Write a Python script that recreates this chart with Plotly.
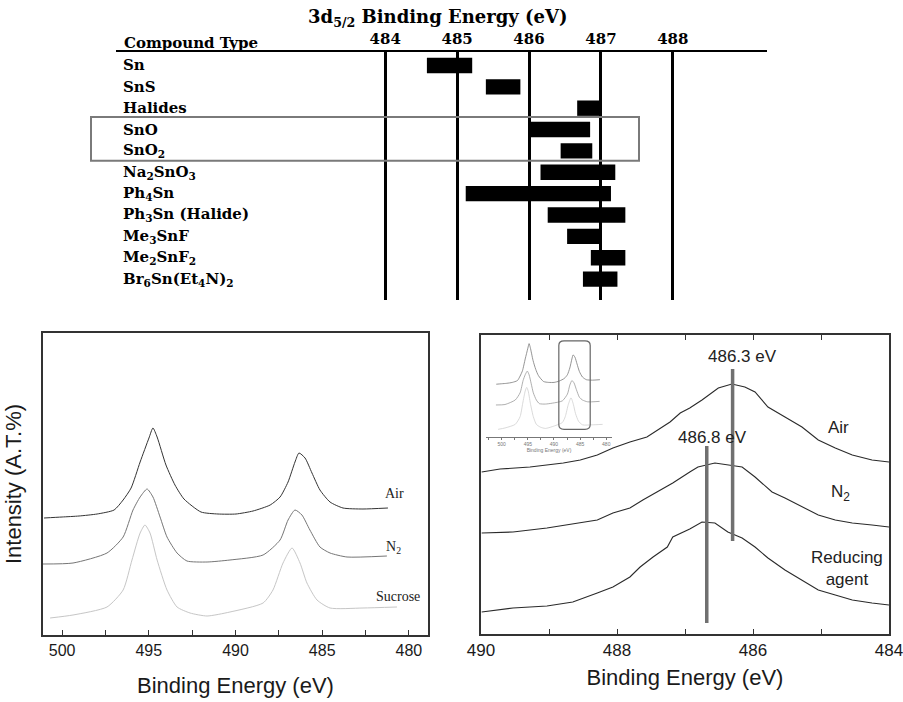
import plotly.graph_objects as go

# ---------------- top chart: 3d5/2 binding energy ranges ----------------
compounds = ["Sn", "SnS", "Halides", "SnO", "SnO<sub>2</sub>", "Na<sub>2</sub>SnO<sub>3</sub>",
             "Ph<sub>4</sub>Sn", "Ph<sub>3</sub>Sn (Halide)", "Me<sub>3</sub>SnF",
             "Me<sub>2</sub>SnF<sub>2</sub>", "Br<sub>6</sub>Sn(Et<sub>4</sub>N)<sub>2</sub>"]
be_low = [484.58, 485.40, 486.67, 486.00, 486.44, 486.16, 485.12, 486.26, 486.53, 486.86, 486.75]
be_high = [485.21, 485.88, 487.00, 486.85, 486.88, 487.20, 487.14, 487.34, 487.00, 487.34, 487.23]
top_ticks = [484, 485, 486, 487, 488]
highlight_rows = [2.41, 4.46]   # SnO / SnO2 box (row units)

# ---------------- bottom-left: Sn 3d spectra ----------------
air_e = [501.04, 500.0, 499.02, 497.98, 497.0, 496.48, 496.02, 495.5, 494.99, 494.76, 494.52, 494.01,
         493.49, 492.97, 491.99, 491.01, 489.97, 488.99, 488.0, 487.43, 486.97, 486.57, 486.34, 485.99,
         485.59, 485.13, 484.55, 483.8, 482.65, 481.21]
air_i = [117, 118, 119, 121, 125, 135, 147, 173, 197, 207, 198, 170, 150, 136, 123, 121, 121, 124,
         130, 138, 153, 173, 182, 177, 162, 145, 133, 127, 126, 127]
n2_e = [501.1, 499.37, 497.41, 496.48, 495.91, 495.5, 495.1, 494.76, 494.35, 493.95, 493.37, 492.8,
        491.64, 490.32, 488.41, 487.43, 486.97, 486.57, 486.17, 485.71, 485.13, 484.55, 483.57, 481.27]
n2_i = [71, 72, 82, 98, 125, 138, 146, 138, 118, 98, 82, 74, 73, 75, 80, 95, 115, 125, 120, 105,
        88, 82, 78, 79]
suc_e = [500.69, 499.37, 497.41, 496.48, 495.97, 495.5, 495.22, 494.93, 494.52, 493.95, 493.37,
         492.62, 491.64, 490.32, 488.41, 487.84, 487.26, 486.74, 486.28, 485.88, 485.3, 484.55,
         482.65, 480.69]
suc_i = [17, 20, 28, 45, 75, 102, 110, 102, 75, 45, 28, 22, 19, 23, 32, 45, 72, 87, 72, 52, 35,
         27, 27, 28]
left_ticks = [500, 495, 490, 485, 480]

# ---------------- bottom-right: Sn 3d5/2 zoom ----------------
r_air_e = [489.99, 489.72, 489.28, 488.79, 488.54, 488.29, 488.06, 487.81, 487.56, 487.41, 487.22,
           487.07, 486.93, 486.75, 486.51, 486.31, 486.12, 485.97, 485.78, 485.53, 485.28, 485.04,
           484.79, 484.54, 484.25, 484.0]
r_air_i = [162, 165, 167, 171, 174, 179, 186, 192, 197, 204, 212, 221, 226, 234, 246, 250, 247, 242,
           227, 217, 207, 194, 186, 179, 174, 172]
r_n2_e = [489.99, 489.53, 489.03, 488.54, 488.29, 488.06, 487.81, 487.62, 487.37, 487.18, 486.93,
          486.81, 486.56, 486.37, 486.16, 485.97, 485.72, 485.53, 485.28, 485.04, 484.79, 484.54,
          484.25, 484.0]
r_n2_i = [101, 102, 106, 111, 114, 121, 126, 134, 144, 151, 162, 167, 171, 169, 167, 157, 142, 136,
          127, 119, 114, 111, 109, 107]
r_red_e = [489.99, 489.53, 489.03, 488.65, 488.29, 488.06, 487.81, 487.66, 487.47, 487.26, 487.18,
           486.93, 486.75, 486.56, 486.37, 486.16, 485.97, 485.78, 485.53, 485.28, 485.04, 484.79,
           484.54, 484.25, 484.0]
r_red_i = [22, 26, 28, 32, 41, 47, 57, 67, 77, 87, 97, 105, 112, 111, 102, 96, 87, 76, 64, 54, 44,
           39, 34, 31, 29]
marker_e = [486.3, 486.68]
marker_lo = [93, 11]
marker_hi = [265, 188]
marker_text = ["486.3 eV", "486.8 eV"]
right_ticks = [490, 488, 486, 484]
inset_box = [489.07, 483.07, 17, 213]

W, H = 903, 702
SERIF = "DejaVu Serif"
SANS = "Liberation Sans"

fig = go.Figure()

# top chart bars
fig.add_trace(go.Bar(
    orientation="h", y=list(range(len(compounds))),
    x=[h - l for l, h in zip(be_low, be_high)], base=be_low,
    width=0.72, marker=dict(color="black", line=dict(width=0)),
    xaxis="x", yaxis="y", hoverinfo="skip"))

# bottom-left spectra
for e, i, c in [(air_e, air_i, "#333333"), (n2_e, n2_i, "#767676"), (suc_e, suc_i, "#c6c6c6")]:
    fig.add_trace(go.Scatter(x=e, y=i, mode="lines",
                             line=dict(color=c, width=1, shape="spline", smoothing=0.6),
                             xaxis="x2", yaxis="y2", hoverinfo="skip"))
# inset (same spectra, small)
for e, i, c in [(air_e, air_i, "#7a7a7a"), (n2_e, n2_i, "#9a9a9a"), (suc_e, suc_i, "#d0d0d0")]:
    fig.add_trace(go.Scatter(x=e, y=i, mode="lines",
                             line=dict(color=c, width=0.8, shape="spline", smoothing=0.6),
                             xaxis="x4", yaxis="y4", hoverinfo="skip"))
# bottom-right spectra
for e, i in [(r_air_e, r_air_i), (r_n2_e, r_n2_i), (r_red_e, r_red_i)]:
    fig.add_trace(go.Scatter(x=e, y=i, mode="lines", line=dict(color="#2a2a2a", width=1.1),
                             xaxis="x3", yaxis="y3", hoverinfo="skip"))
for e, lo, hi in zip(marker_e, marker_lo, marker_hi):
    fig.add_trace(go.Scatter(x=[e, e], y=[lo, hi], mode="lines",
                             line=dict(color="#707070", width=3.5),
                             xaxis="x3", yaxis="y3", hoverinfo="skip"))

px = lambda v: v / W
py = lambda v: 1 - v / H

# --- axes ---
fig.update_layout(
    width=W, height=H, margin=dict(l=0, r=0, t=0, b=0, autoexpand=False),
    paper_bgcolor="white", plot_bgcolor="rgba(0,0,0,0)", showlegend=False,
    hovermode=False,
    xaxis=dict(domain=[px(116), px(767)], range=[480.256, 489.31], side="top",
               tickvals=top_ticks, ticks="", showline=True, linecolor="black", linewidth=2,
               showgrid=True, gridcolor="black", gridwidth=2.5, zeroline=False,
               tickfont=dict(family=SERIF, size=15, color="black", weight="bold"),
               automargin=False, anchor="y"),
    yaxis=dict(domain=[py(300), py(52)], range=[10.98, -0.63], showticklabels=False,
               showgrid=False, zeroline=False, showline=False, ticks="", automargin=False,
               anchor="x"),
    xaxis2=dict(domain=[px(43), px(428)], range=[501.1, 478.9], tickvals=left_ticks,
                ticks="inside", ticklen=5, tickcolor="#333",
                minor=dict(dtick=2.5, ticks="inside", ticklen=5, tickcolor="#333"),
                showline=True, mirror=True, linecolor="#333", linewidth=1.5,
                showgrid=False, zeroline=False,
                tickfont=dict(family=SANS, size=16, color="#1a1a1a"),
                title=dict(text="Binding Energy (eV)",
                           font=dict(family=SANS, size=22, color="#1a1a1a"), standoff=20),
                automargin=False, anchor="y2"),
    yaxis2=dict(domain=[py(635), py(333)], range=[0, 302], showticklabels=False, ticks="",
                showline=True, mirror=True, linecolor="#333", linewidth=1.5,
                showgrid=False, zeroline=False,
                title=dict(text="Intensity (A.T.%)",
                           font=dict(family=SANS, size=22, color="#1a1a1a"), standoff=14),
                automargin=False, anchor="x2"),
    xaxis3=dict(domain=[px(481), px(889)], range=[490, 484], tickvals=right_ticks,
                ticks="inside", ticklen=5, tickcolor="#333",
                minor=dict(dtick=1, ticks="inside", ticklen=5, tickcolor="#333"),
                showline=True, mirror="ticks", linecolor="#333", linewidth=1.5,
                showgrid=False, zeroline=False, ticklabeloverflow="allow",
                tickfont=dict(family=SANS, size=17, color="#1a1a1a"),
                title=dict(text="Binding Energy (eV)",
                           font=dict(family=SANS, size=22, color="#1a1a1a"), standoff=10),
                automargin=False, anchor="y3"),
    yaxis3=dict(domain=[py(634), py(335)], range=[0, 299], showticklabels=False, ticks="",
                showline=True, mirror=True, linecolor="#333", linewidth=1.5,
                showgrid=False, zeroline=False, automargin=False, anchor="x3"),
    xaxis4=dict(domain=[px(486), px(612)], range=[503.0, 478.9], tickvals=left_ticks,
                ticks="outside", ticklen=2, tickcolor="#777", tickwidth=0.7,
                minor=dict(dtick=2.5, ticks="outside", ticklen=2, tickcolor="#777", tickwidth=0.7),
                showline=True, linecolor="#777", linewidth=0.8, showgrid=False, zeroline=False,
                tickfont=dict(family=SANS, size=5, color="#777"),
                title=dict(text="Binding Energy (eV)", font=dict(family=SANS, size=5, color="#777"),
                           standoff=1),
                automargin=False, anchor="y4"),
    yaxis4=dict(domain=[py(437), py(340)], range=[0, 215], visible=False, automargin=False,
                anchor="x4"),
)

ann = []
# top chart texts
ann.append(dict(text="3d<sub>5/2</sub> Binding Energy (eV)", xref="paper", yref="paper",
                x=px(438), y=py(18), xanchor="center", yanchor="middle", showarrow=False,
                font=dict(family=SERIF, size=18, color="black", weight="bold")))
ann.append(dict(text="Compound Type", xref="paper", yref="paper", x=px(122), y=py(43),
                xanchor="left", yanchor="middle", showarrow=False,
                font=dict(family=SERIF, size=15, color="black", weight="bold")))
for k, name in enumerate(compounds):
    ann.append(dict(text=name, xref="paper", yref="y", x=px(121), y=k, xanchor="left",
                    yanchor="middle", showarrow=False,
                    font=dict(family=SERIF, size=15, color="black", weight="bold")))
# left labels
for t, e, i in [("Air", 480.81, 142), ("N<sub>2</sub>", 480.9, 88), ("Sucrose", 480.63, 39)]:
    ann.append(dict(text=t, xref="x2", yref="y2", x=e, y=i, showarrow=False,
                    font=dict(family="Liberation Serif", size=14, color="#222")))
# right labels
for t, e, i in [("Air", 484.75, 206), ("N<sub>2</sub>", 484.72, 141), ("Reducing<br>agent", 484.62, 66)]:
    ann.append(dict(text=t, xref="x3", yref="y3", x=e, y=i, showarrow=False,
                    font=dict(family=SANS, size=17, color="#222")))
for t, e, hi in zip(marker_text, [486.16, 486.59], [277, 196]):
    ann.append(dict(text=t, xref="x3", yref="y3", x=e, y=hi, showarrow=False,
                    font=dict(family=SANS, size=17, color="#222")))
fig.update_layout(annotations=ann)

# shapes: highlight box in top chart, rounded box in inset
xa, xb, ya, yb = inset_box
rx, ry = 1.0, 10.0
sx = 1 if xb > xa else -1
sy = 1 if yb > ya else -1
path = (f"M {xa + sx*rx} {ya} L {xb - sx*rx} {ya} Q {xb} {ya} {xb} {ya + sy*ry} "
        f"L {xb} {yb - sy*ry} Q {xb} {yb} {xb - sx*rx} {yb} L {xa + sx*rx} {yb} "
        f"Q {xa} {yb} {xa} {yb - sy*ry} L {xa} {ya + sy*ry} Q {xa} {ya} {xa + sx*rx} {ya} Z")
fig.update_layout(shapes=[
    dict(type="rect", xref="paper", yref="y", x0=px(91), x1=px(639),
         y0=highlight_rows[0], y1=highlight_rows[1], line=dict(color="#7a7a7a", width=2)),
    dict(type="path", xref="x4", yref="y4", path=path, line=dict(color="#666", width=1.2)),
])

fig.write_html("out.html")
